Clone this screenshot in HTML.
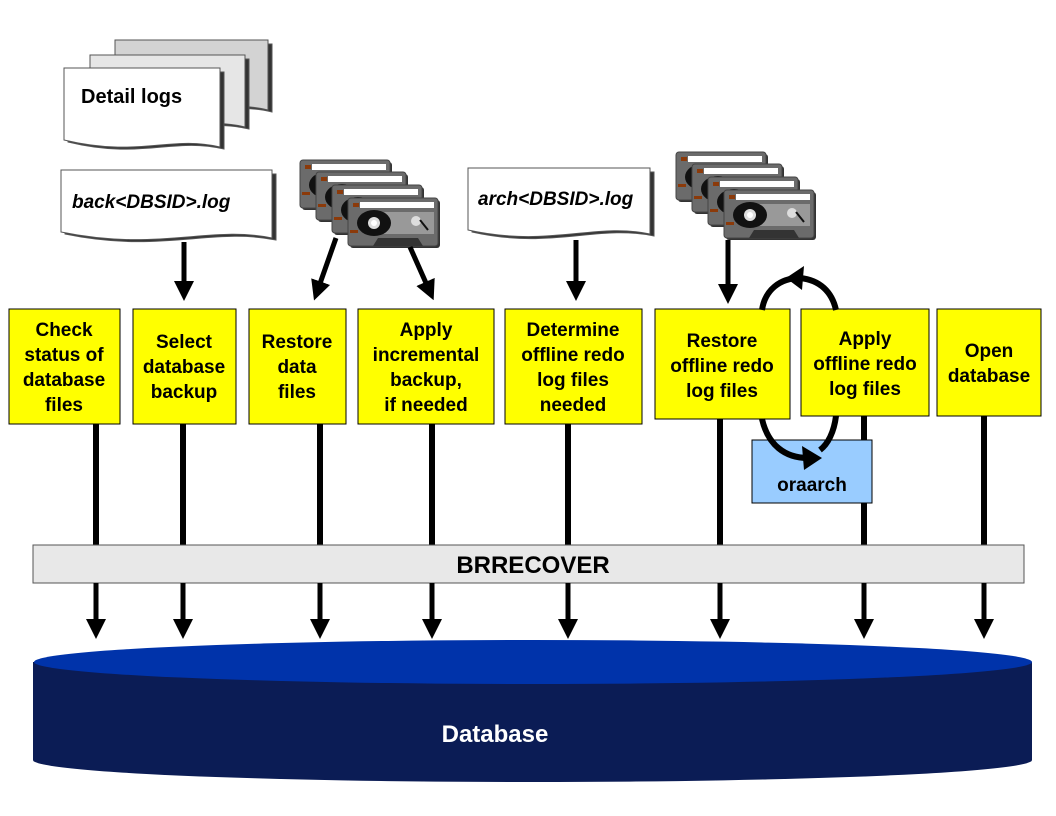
<!DOCTYPE html>
<html><head><style>body{margin:0;background:#fff}svg{display:block}text{font-family:"Liberation Sans",Arial,sans-serif;font-weight:bold}</style></head><body>
<svg width="1056" height="816" viewBox="0 0 1056 816" xmlns="http://www.w3.org/2000/svg">
<defs>
<marker id="ah" markerWidth="4" markerHeight="4" refX="2.2" refY="2" orient="auto" markerUnits="strokeWidth"><path d="M0,0 L4,2 L0,4 Z" fill="#000"/></marker>
<g id="tape">
<rect x="2" y="2" width="90" height="48" rx="3" fill="#333"/>
<rect x="0" y="0" width="90" height="48" rx="3" fill="#6b6b6b" stroke="#444"/>
<rect x="12" y="4" width="74" height="6" fill="#fff"/>
<rect x="5" y="5" width="6" height="4" fill="#8b3a0a"/>
<rect x="2" y="32" width="8" height="3" fill="#8b3a0a"/>
<rect x="30" y="14" width="56" height="22" fill="#999"/>
<ellipse cx="26" cy="25" rx="17" ry="13" fill="#111"/>
<circle cx="26" cy="25" r="6" fill="#ddd"/><circle cx="26" cy="25" r="3" fill="#fff"/>
<circle cx="68" cy="23" r="5" fill="#ddd"/>
<path d="M72,22 L80,32" stroke="#111" stroke-width="2"/>
<path d="M25,48 L30,40 H70 L75,48 Z" fill="#333"/>
</g>
</defs>

<g stroke="#555" stroke-width="1">
<path d="M117,42 H270 V110 C230,100 190,115 117,105 Z" fill="#333" transform="translate(2,2)"/>
<path d="M115,40 H268 V110 C230,100 190,115 115,105 Z" fill="#d3d3d3"/>
<path d="M92,57 H247 V127 C205,117 165,132 92,122 Z" fill="#333" transform="translate(2,2)"/>
<path d="M90,55 H245 V127 C205,117 165,132 90,122 Z" fill="#e6e6e6"/>
<path d="M66,70 H222 V147 C170,135 140,158 66,140 Z" fill="#333" transform="translate(2,2)"/>
<path d="M64,68 H220 V147 C170,135 140,158 64,140 Z" fill="#fff"/>
<path d="M63,172 H274 V238 C210,225 160,252 63,232 Z" fill="#333" transform="translate(2,2)"/>
<path d="M61,170 H272 V238 C210,225 160,252 61,232 Z" fill="#fff"/>
<path d="M470,170 H652 V234 C595,222 550,248 470,230 Z" fill="#333" transform="translate(2,2)"/>
<path d="M468,168 H650 V234 C595,222 550,248 468,230 Z" fill="#fff"/>
</g>
<text x="81" y="103" font-size="20">Detail logs</text>
<text x="72" y="208" font-size="19" font-style="italic">back&lt;DBSID&gt;.log</text>
<text x="478" y="205" font-size="19" font-style="italic">arch&lt;DBSID&gt;.log</text>

<use href="#tape" x="300" y="160"/><use href="#tape" x="316" y="172"/><use href="#tape" x="332" y="185"/><use href="#tape" x="348" y="198"/>
<use href="#tape" x="676" y="152"/><use href="#tape" x="692" y="164"/><use href="#tape" x="708" y="177"/><use href="#tape" x="724" y="190"/>

<g stroke="#000" stroke-width="5" marker-end="url(#ah)">
<line x1="184" y1="242" x2="184" y2="292"/>
<line x1="336" y1="238" x2="317" y2="292"/>
<line x1="410" y1="247" x2="430" y2="292"/>
<line x1="576" y1="240" x2="576" y2="292"/>
<line x1="728" y1="240" x2="728" y2="295"/>
</g>

<g stroke="#000" stroke-width="6">
<line x1="96" y1="420" x2="96" y2="546"/><line x1="183" y1="420" x2="183" y2="546"/>
<line x1="320" y1="420" x2="320" y2="546"/><line x1="432" y1="420" x2="432" y2="546"/>
<line x1="568" y1="420" x2="568" y2="546"/><line x1="720" y1="418" x2="720" y2="546"/>
<line x1="864" y1="414" x2="864" y2="546"/><line x1="984" y1="414" x2="984" y2="546"/>
</g>

<g fill="#ffff00" stroke="#000" stroke-width="1">
<rect x="9" y="309" width="111" height="115"/><rect x="133" y="309" width="103" height="115"/>
<rect x="249" y="309" width="97" height="115"/><rect x="358" y="309" width="136" height="115"/>
<rect x="505" y="309" width="137" height="115"/><rect x="655" y="309" width="135" height="110"/>
<rect x="801" y="309" width="128" height="107"/><rect x="937" y="309" width="104" height="107"/>
</g>
<rect x="752" y="440" width="120" height="63" fill="#99ccff" stroke="#000"/>
<line x1="864" y1="503" x2="864" y2="546" stroke="#000" stroke-width="6"/>

<g fill="none" stroke="#000" stroke-width="6">
<path d="M762,310 C765,290 780,278 800,278 C820,280 832,292 836,310"/>
<path d="M762,419 C768,445 785,458 808,458"/>
<path d="M836,416 C834,432 828,444 820,450"/>
</g>
<path d="M786,278 L804,266 L802,290 Z" fill="#000"/>
<path d="M822,458 L802,446 L804,470 Z" fill="#000"/>

<g font-size="19" text-anchor="middle">
<text x="64" y="336">Check</text><text x="64" y="361">status of</text><text x="64" y="386">database</text><text x="64" y="411">files</text>
<text x="184" y="348">Select</text><text x="184" y="373">database</text><text x="184" y="398">backup</text>
<text x="297" y="348">Restore</text><text x="297" y="373">data</text><text x="297" y="398">files</text>
<text x="426" y="336">Apply</text><text x="426" y="361">incremental</text><text x="426" y="386">backup,</text><text x="426" y="411">if needed</text>
<text x="573" y="336">Determine</text><text x="573" y="361">offline redo</text><text x="573" y="386">log files</text><text x="573" y="411">needed</text>
<text x="722" y="347">Restore</text><text x="722" y="372">offline redo</text><text x="722" y="397">log files</text>
<text x="865" y="345">Apply</text><text x="865" y="370">offline redo</text><text x="865" y="395">log files</text>
<text x="989" y="357">Open</text><text x="989" y="382">database</text>
<text x="812" y="491">oraarch</text>
</g>

<rect x="33" y="545" width="991" height="38" fill="#e8e8e8" stroke="#555"/>
<text x="533" y="573" font-size="24" text-anchor="middle">BRRECOVER</text>

<path d="M33,662 V760 A499,22 0 0 0 1032,760 V662 Z" fill="#0b1c55"/>
<ellipse cx="533" cy="662" rx="499" ry="22" fill="#0033aa"/>
<text x="495" y="742" font-size="24" fill="#fff" text-anchor="middle">Database</text>

<g stroke="#000" stroke-width="5" marker-end="url(#ah)">
<line x1="96" y1="583" x2="96" y2="630"/><line x1="183" y1="583" x2="183" y2="630"/>
<line x1="320" y1="583" x2="320" y2="630"/><line x1="432" y1="583" x2="432" y2="630"/>
<line x1="568" y1="583" x2="568" y2="630"/><line x1="720" y1="583" x2="720" y2="630"/>
<line x1="864" y1="583" x2="864" y2="630"/><line x1="984" y1="583" x2="984" y2="630"/>
</g>
</svg>
</body></html>
